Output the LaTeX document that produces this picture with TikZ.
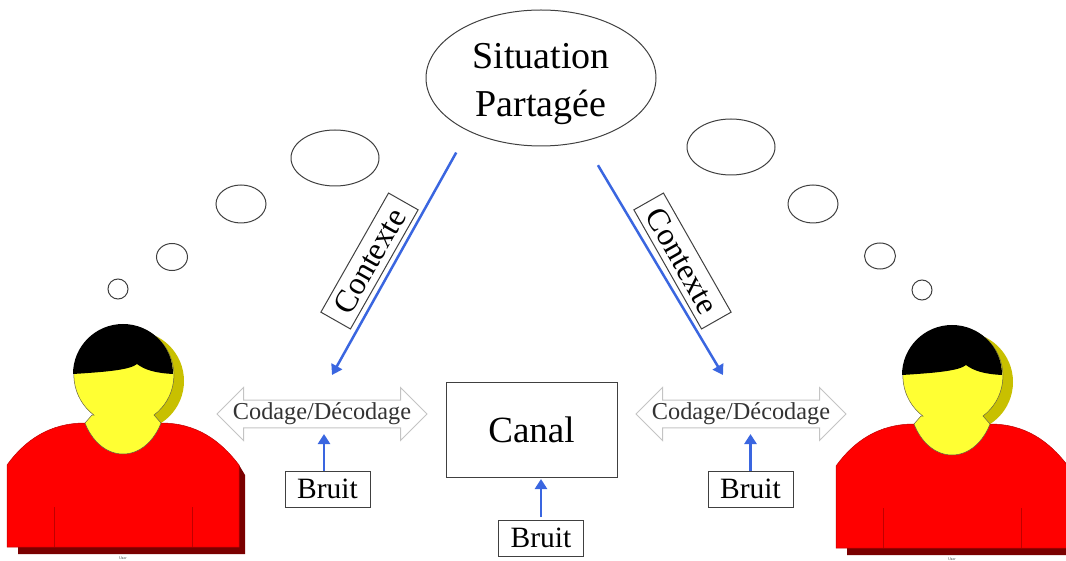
\documentclass[tikz,border=0pt]{standalone}
\usepackage{fontspec}
\usepackage{xcolor}
\setmainfont{Liberation Serif}
\usetikzlibrary{shapes.geometric,shapes.arrows,arrows.meta}
\definecolor{bleufleche}{HTML}{3A66E0}
\definecolor{trait}{HTML}{404040}
\definecolor{grisfleche}{HTML}{C4C4C4}
\definecolor{rougeombre}{HTML}{7A0000}
\definecolor{jauneombre}{HTML}{C8C000}
\definecolor{jauneface}{HTML}{FFFF33}
\tikzset{
  bulle/.style={draw=trait,ellipse,inner sep=0pt,outer sep=0pt,line width=1pt},
  boite/.style={draw=trait,rectangle,inner sep=0pt,outer sep=0pt,line width=1pt},
  bruit/.style={boite,minimum width=85pt,minimum height=36pt,font=\fontsize{29.5}{32}\selectfont},
  contexte/.style={boite,minimum width=137pt,minimum height=34pt,font=\fontsize{32}{34}\selectfont},
  codage/.style={draw=grisfleche,double arrow,double arrow head extend=10.5pt,double arrow tip angle=90,
    minimum height=210pt,minimum width=53pt,inner sep=0pt,outer sep=0pt,line width=1pt,
    font=\fontsize{24.3}{25}\selectfont,text=black!80},
  fleche/.style={draw=bleufleche,fill=bleufleche,line width=2.5pt,-{Triangle[length=10pt,width=12pt]}},
}
\begin{document}
\begin{tikzpicture}[x=1pt,y=-1pt]
  \useasboundingbox (0,0) rectangle (1066,561);
  \foreach \dx/\dy in {0/0,829/1}{
    \begin{scope}[shift={(\dx,\dy)}]
      \fill[jauneombre] (134,381) circle[radius=50];
      \fill[rougeombre] (18,554) -- (245,554) -- (245,475) -- (239,465) -- (18,500) -- cycle;
      \filldraw[fill=red,draw=red!75!black,line width=0.5pt] (85,423) .. controls (50,423) and (25,440) .. (7,465)
        -- (7,547) -- (239,547) -- (239,465) .. controls (220,440) and (196,423) .. (161,423) -- cycle;
      \draw[red!75!black,line width=0.5pt] (54,507) -- (54,547);
      \draw[red!75!black,line width=0.5pt] (192,507) -- (192,547);
      \filldraw[fill=jauneface,draw=black!70!yellow,line width=0.5pt] (92,415) -- (85,423)
        .. controls (92,441) and (106,454) .. (123,454) .. controls (140,454) and (154,441) .. (161,423) -- (154,415)
        arc[start angle=53,end angle=-233,radius=50] -- cycle;
      \fill[black] (73,374) arc[start angle=180,end angle=360,radius=50]
        .. controls (155,373) and (145,370) .. (137,364) .. controls (130,370) and (105,372) .. cycle;
      \node[font=\sffamily\fontsize{4}{5}\selectfont,text=black!70,inner sep=0pt] (user\dx) at (123,558) {User};
    \end{scope}
  }
  \node[bulle,minimum width=230pt,minimum height=136pt] (situation) at (541,78) {};
  \node[align=center,inner sep=0pt,font=\fontsize{38}{47.5}\selectfont] (titre) at (541,84) {Situation\\Partagée};
  \node[bulle,minimum width=20pt,minimum height=20pt] (bulleA) at (118,289) {};
  \node[bulle,minimum width=31pt,minimum height=27pt] (bulleB) at (172,257) {};
  \node[bulle,minimum width=50pt,minimum height=38pt] (bulleC) at (241,204) {};
  \node[bulle,minimum width=88pt,minimum height=56pt] (bulleD) at (335,158) {};
  \node[bulle,minimum width=20pt,minimum height=20pt] (bulleE) at (922,290) {};
  \node[bulle,minimum width=31pt,minimum height=26pt] (bulleF) at (880,256) {};
  \node[bulle,minimum width=50pt,minimum height=38pt] (bulleG) at (813,204) {};
  \node[bulle,minimum width=88pt,minimum height=56pt] (bulleH) at (731,147) {};
  \node[contexte,rotate=60.4] (contexteG) at (369.5,261) {Contexte};
  \node[contexte,rotate=-60.4] (contexteD) at (682.5,261) {Contexte};
  \node[codage] (codageG) at (322,414) {Codage/Décodage};
  \node[codage] (codageD) at (741,414) {Codage/Décodage};
  \node[boite,minimum width=171pt,minimum height=95pt,font=\fontsize{37}{40}\selectfont] (canal) at (531.5,430) {Canal};
  \node[bruit] (bruitG) at (327.5,489) {Bruit};
  \node[bruit] (bruitC) at (541,538) {Bruit};
  \node[bruit] (bruitD) at (750.5,489) {Bruit};
  \coordinate (cibleG) at (332,375);
  \coordinate (cibleD) at (723,375);
  \coordinate (cibleBG) at (324,434);
  \coordinate (cibleBD) at (750.5,434);
  \coordinate (cibleC) at (541,479);
  \draw[fleche,shorten <=25pt] (situation.216.5) -- (cibleG);
  \draw[fleche,shorten <=28pt] (situation.304.1) -- (cibleD);
  \draw[fleche] (bruitG.north -| cibleBG) -- (cibleBG);
  \draw[fleche] (bruitD.north) -- (cibleBD);
  \draw[fleche,shorten <=3pt] (bruitC.north) -- (cibleC);
\end{tikzpicture}
\end{document}
